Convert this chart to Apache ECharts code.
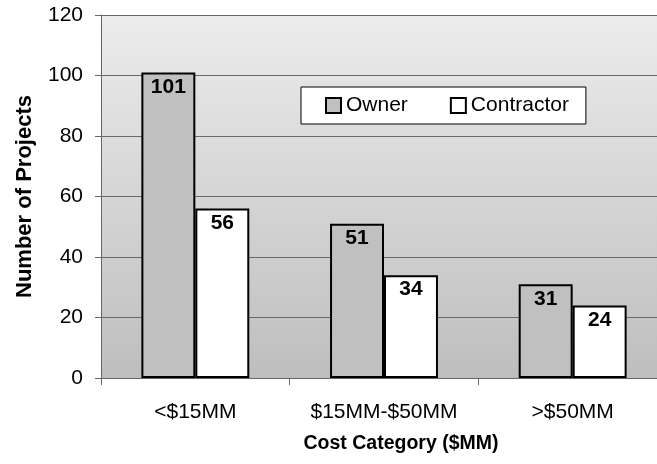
<!DOCTYPE html>
<html>
<head>
<meta charset="utf-8">
<script src="https://cdn.jsdelivr.net/npm/echarts@6/dist/echarts.min.js"></script>
<style>
html,body{margin:0;padding:0;background:#fff;overflow:hidden;width:657px;height:464px;}
#c{width:667px;height:464px;}
</style>
</head>
<body>
<div id="c"></div>
<script>
const categories = ['<$15MM', '$15MM-$50MM', '>$50MM'];
const ownerValues = [101, 51, 31];
const contractorValues = [56, 34, 24];
const seriesNames = ['Owner', 'Contractor'];
const yTicks = { min: 0, max: 120, interval: 20 };
const yTitle = 'Number of Projects';
const xTitle = 'Cost Category ($MM)';

const FONT = '"Liberation Sans", Arial, Helvetica, sans-serif';
const chart = echarts.init(document.getElementById('c'), null, { renderer: 'canvas' });

const barLabel = {
  show: true,
  position: 'insideTop',
  distance: 4,
  fontFamily: FONT,
  fontSize: 21,
  fontWeight: 'bold',
  color: '#000'
};

chart.setOption({
  animation: false,
  backgroundColor: '#fff',
  textStyle: { fontFamily: FONT },
  grid: {
    left: 101, right: 0, top: 15, bottom: 86,
    show: true,
    borderWidth: 0,
    backgroundColor: new echarts.graphic.LinearGradient(0, 0, 0, 1, [
      { offset: 0, color: '#ececec' },
      { offset: 1, color: '#bebebe' }
    ])
  },
  legend: {
    left: 301, top: 87,
    padding: [8, 17, 8, 24],
    itemGap: 42,
    itemWidth: 15,
    itemHeight: 15,
    icon: 'rect',
    backgroundColor: '#fff',
    borderColor: '#000',
    borderWidth: 1,
    borderRadius: 0,
    itemStyle: { borderColor: '#000', borderWidth: 2 },
    textStyle: { fontFamily: FONT, fontSize: 21, color: '#000' },
    data: seriesNames
  },
  xAxis: {
    type: 'category',
    data: categories,
    axisLine: { show: true, lineStyle: { color: '#666', width: 1 } },
    axisTick: { show: true, length: 7, lineStyle: { color: '#666' } },
    axisLabel: { interval: 0, margin: 24, fontFamily: FONT, fontSize: 21, color: '#000' }
  },
  yAxis: {
    type: 'value',
    min: yTicks.min, max: yTicks.max, interval: yTicks.interval,
    name: yTitle,
    nameLocation: 'middle',
    nameGap: 65,
    nameTextStyle: { fontFamily: FONT, fontSize: 22, fontWeight: 'bold', color: '#000' },
    axisLine: { show: true, lineStyle: { color: '#666', width: 1 } },
    axisTick: { show: true, length: 6, lineStyle: { color: '#666' } },
    axisLabel: { margin: 18, fontFamily: FONT, fontSize: 21, color: '#000' },
    splitLine: { show: true, lineStyle: { color: '#6a6a6a', width: 1 } }
  },
  graphic: [{
    type: 'text',
    x: 401, y: 444,
    style: {
      text: xTitle,
      font: 'bold 19.5px ' + FONT,
      fill: '#000',
      textAlign: 'center',
      textVerticalAlign: 'middle'
    }
  }],
  series: [
    {
      name: seriesNames[0], type: 'bar', data: ownerValues,
      barGap: '0%', barCategoryGap: '42.8%',
      itemStyle: { color: '#c0c0c0', borderColor: '#000', borderWidth: 2 },
      label: barLabel
    },
    {
      name: seriesNames[1], type: 'bar', data: contractorValues,
      barGap: '0%', barCategoryGap: '42.8%',
      itemStyle: { color: '#fff', borderColor: '#000', borderWidth: 2 },
      label: barLabel
    }
  ]
});
</script>
</body>
</html>
